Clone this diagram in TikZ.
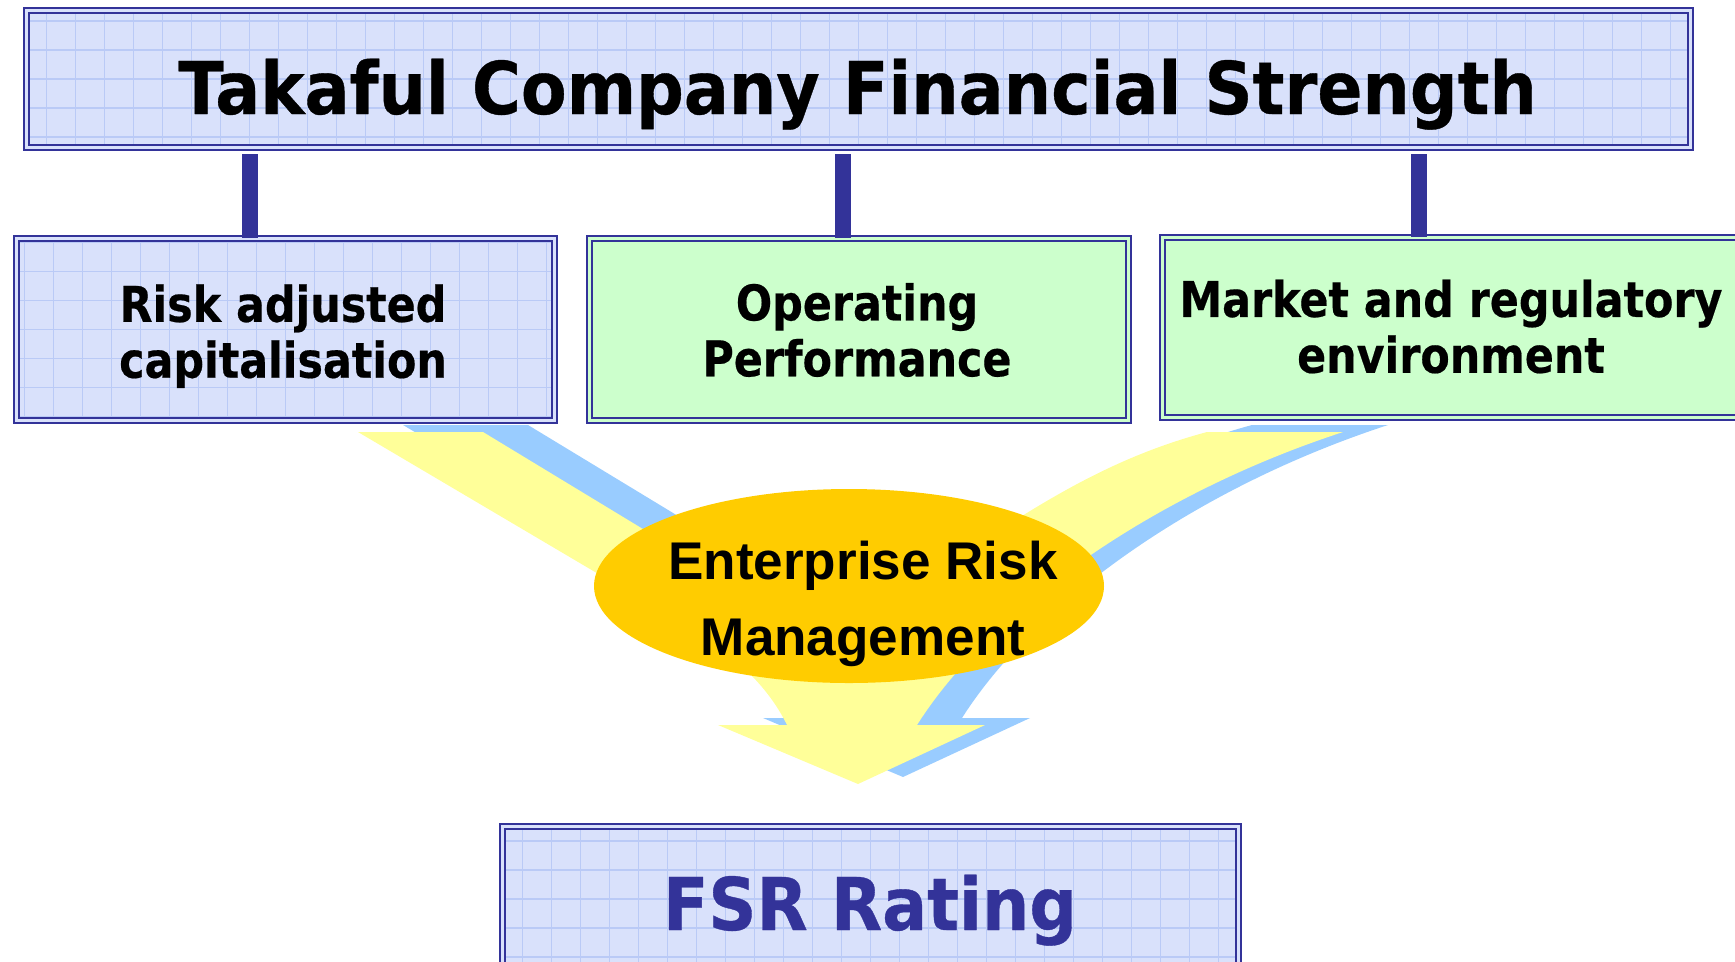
\documentclass[tikz,border=0pt]{standalone}
\usepackage{fontspec}
\usetikzlibrary{shapes.geometric}
\newfontfamily\headfont[FakeStretch=0.916, FakeBold=0.5]{DejaVu Sans}
\newfontfamily\boxfont[FakeStretch=0.87, FakeBold=0.4]{DejaVu Sans}
\newfontfamily\ermfont{Liberation Sans}
\definecolor{boxframe}{HTML}{333399}
\definecolor{paleblue}{HTML}{D9E1FB}
\definecolor{gridblue}{HTML}{BACAF6}
\definecolor{palegreen}{HTML}{CCFFCC}
\definecolor{arrowyellow}{HTML}{FFFF99}
\definecolor{shadowblue}{HTML}{99CCFF}
\definecolor{ermgold}{HTML}{FFCC00}
\begin{document}
\begin{tikzpicture}[scale=1.0,
    gridbox/.style={draw=boxframe, line width=0.65pt, double=paleblue, double distance=0.7pt,
        fill=paleblue, inner sep=0pt, outer sep=0pt,
        path picture={\draw[gridblue, line width=0.35pt, step=0.29]
            (path picture bounding box.south west) grid (path picture bounding box.north east);}},
    greenbox/.style={draw=boxframe, line width=0.65pt, double=palegreen, double distance=0.7pt,
        fill=palegreen, inner sep=0pt, outer sep=0pt},
    link/.style={boxframe, line width=4.5pt},
    headtext/.style={font=\headfont\bfseries\fontsize{20.7}{24}\selectfont},
    boxtext/.style={align=center, font=\boxfont\bfseries\fontsize{14}{15.9}\selectfont},
    ermtext/.style={align=center, font=\ermfont\bfseries\fontsize{15.1}{21.6}\selectfont}]

    % Canvas
    \path[use as bounding box, clip] (0,0) rectangle (17.35,-9.61);

    % Title box
    \node[gridbox, minimum width=16.642cm, minimum height=1.372cm] (takaful) at (8.585,-0.79) {};
    \node[headtext, anchor=base] (takafultxt) at (8.576,-1.14) {Takaful Company Financial Strength};

    % Three factor boxes
    \node[gridbox, minimum width=5.382cm, minimum height=1.822cm] (risk) at (2.855,-3.295) {};
    \node[greenbox, minimum width=5.392cm, minimum height=1.822cm] (oper) at (8.59,-3.295) {};
    \node[greenbox, minimum width=5.792cm, minimum height=1.802cm] (market) at (14.52,-3.275) {};
    \node[boxtext] (risktxt) at (2.83,-3.362) {Risk adjusted\\capitalisation};
    \node[boxtext] (opertxt) at (8.57,-3.30) {Operating\\Performance};
    \node[boxtext] (markettxt) at (14.51,-3.265) {Market and regulatory\\environment};

    % Links from the title
    \coordinate (l1) at (2.50,-1.54);
    \coordinate (l2) at (8.43,-1.54);
    \coordinate (l3) at (14.19,-1.54);
    \draw[link] (l1) -- (l1 |- risk.north);
    \draw[link] (l2) -- (l2 |- oper.north);
    \draw[link] (l3) -- (l3 |- market.north);

    % Merging arrow with its shadow
    \foreach \col/\dx/\dy in {shadowblue/0.45/0.07, arrowyellow/0/0}
        \fill[\col, shift={(\dx,\dy)}] (3.58,-4.32) -- (4.83,-4.32) -- (7.60,-6.00) -- (9.00,-6.00)
            -- (10.00,-5.30) .. controls (10.80,-4.78) and (11.40,-4.50) .. (12.07,-4.32)
            -- (13.43,-4.32) .. controls (11.50,-4.95) and (9.90,-6.10) .. (9.17,-7.25)
            -- (9.85,-7.25) -- (8.58,-7.84) -- (7.18,-7.25) -- (7.87,-7.25)
            .. controls (7.70,-6.90) and (7.40,-6.60) .. (7.00,-6.34) -- cycle;

    % Enterprise risk management
    \node[ellipse, fill=ermgold, minimum width=5.10cm, minimum height=1.94cm, inner sep=0pt] (erm) at (8.49,-5.86) {};
    \node[ermtext] (ermtxt) at (8.63,-6.04) {Enterprise Risk\\Management};

    % Rating box
    \node[gridbox, minimum width=7.362cm, minimum height=1.452cm] (fsr) at (8.705,-8.99) {};
    \node[headtext, boxframe, anchor=base] (fsrtxt) at (8.70,-9.30) {FSR Rating};
\end{tikzpicture}
\end{document}
